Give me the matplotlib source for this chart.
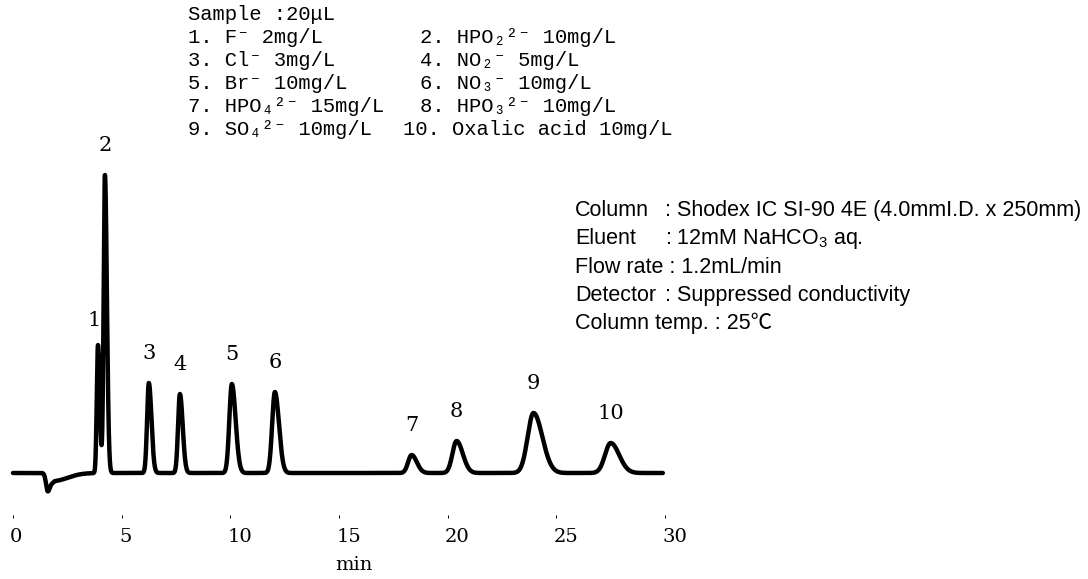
import numpy as np
import matplotlib
matplotlib.use("Agg")
import matplotlib.pyplot as plt
from matplotlib.transforms import ScaledTranslation

# Peak table: retention time (min), height (detector response), width (min)
peak_ids = ["1", "2", "3", "4", "5", "6", "7", "8", "9", "10"]
retention_min = [3.91, 4.23, 6.25, 7.68, 10.07, 12.05, 18.34, 20.41, 23.95, 27.50]
peak_height = [128, 298, 90, 79, 89, 81, 18, 32, 60, 30]
peak_sigma = [0.055, 0.060, 0.080, 0.085, 0.115, 0.125, 0.160, 0.190, 0.270, 0.260]
tailing = 1.5

# Injection (system) dip: time, depth, left/right width
dip_time = [1.60, 1.85]
dip_depth = [-18, -8]
dip_sigma_left = [0.08, 0.10]
dip_sigma_right = [0.11, 0.65]

run_end = 29.9
x_ticks = [0, 5, 10, 15, 20, 25, 30]

sample_lines_left = [
    "1. F\u207b 2mg/L",
    "3. Cl\u207b 3mg/L",
    "5. Br\u207b 10mg/L",
    "7. HPO\u2084\u00b2\u207b 15mg/L",
    "9. SO\u2084\u00b2\u207b 10mg/L",
]
sample_lines_right = [
    "2. HPO\u2082\u00b2\u207b 10mg/L",
    "4. NO\u2082\u207b 5mg/L",
    "6. NO\u2083\u207b 10mg/L",
    "8. HPO\u2083\u00b2\u207b 10mg/L",
    "10. Oxalic acid 10mg/L",
]
condition_keys = ["Column", "Eluent", "Flow rate", "Detector", "Column temp."]
condition_values = [
    "Shodex IC SI-90 4E (4.0mmI.D. x 250mm)",
    r"12mM NaHCO$\mathregular{_3}$ aq.",
    "1.2mL/min",
    "Suppressed conductivity",
    "25\u2103",
]


def skewed_gauss(t, center, height, s_left, s_right):
    s = np.where(t < center, s_left, s_right)
    return height * np.exp(-0.5 * ((t - center) / s) ** 2)


t = np.linspace(0, run_end, 8000)
signal = np.zeros_like(t)
for c, h, s in zip(retention_min, peak_height, peak_sigma):
    signal += skewed_gauss(t, c, h, s, s * tailing)
for c, h, sl, sr in zip(dip_time, dip_depth, dip_sigma_left, dip_sigma_right):
    signal += skewed_gauss(t, c, h, sl, sr)

W, H = 1088, 579
fig = plt.figure(figsize=(W / 100, H / 100), dpi=100)

# axes: t=0 at x=13px, t=30 at x=665px, baseline at y=473px
ax_left, ax_right = 13, 665
ax_bottom, ax_top, y_zero = 515, 155, 473
ax = fig.add_axes([ax_left / W, (H - ax_bottom) / H,
                   (ax_right - ax_left) / W, (ax_bottom - ax_top) / H])
ax.set_xlim(0, 30)
ax.set_ylim(-(ax_bottom - y_zero), y_zero - ax_top)

ax.plot(t, signal, color="black", lw=3.2, solid_joinstyle="round",
        solid_capstyle="round", clip_on=False)

for s in ax.spines.values():
    s.set_visible(False)
ax.set_yticks([])
ax.set_xticks(x_ticks)
ax.set_xticklabels([str(v) for v in x_ticks], fontfamily="DejaVu Serif", fontsize=14)
ax.tick_params(axis="x", direction="out", length=2.2, width=0.7, pad=7)
shift = ScaledTranslation(-2 / 72, 0, fig.dpi_scale_trans)
for lab in ax.get_xticklabels():
    lab.set_horizontalalignment("left")
    lab.set_transform(lab.get_transform() + shift)

fig.text(354 / W, 1 - 565 / H, "min", fontfamily="DejaVu Serif", fontsize=14,
         ha="center", va="center")

# peak numbers above each apex
for pid, c, h in zip(peak_ids, retention_min, peak_height):
    dx = -2.5 if pid == "1" else 0
    dy = 17.5 if pid == "1" else 21
    ax.annotate(pid, xy=(c, h), xytext=(dx, dy), textcoords="offset points",
                ha="center", va="center", fontfamily="DejaVu Serif", fontsize=15,
                annotation_clip=False)

# sample composition block
mono = dict(fontfamily=["Liberation Mono", "DejaVu Sans Mono"], fontsize=14.8,
            va="baseline")
fig.text(188 / W, 1 - 20 / H, "Sample :20\u03bcL", **mono)
base_rows = [43, 66, 89, 112, 135]
for y, a, b in zip(base_rows, sample_lines_left, sample_lines_right):
    fig.text(188 / W, 1 - y / H, a, **mono)
    xr = 403 if b.startswith("10.") else 420
    fig.text(xr / W, 1 - y / H, b, **mono)

# chromatographic conditions
sans = dict(fontfamily=["Liberation Sans", "Noto Sans CJK JP"], fontsize=15.5,
            va="baseline")
cond_rows = [216, 244, 273, 301, 329]
for y, k, v in zip(cond_rows, condition_keys, condition_values):
    if k in ("Column", "Eluent", "Detector"):
        fig.text(575 / W, 1 - y / H, k, **sans)
        fig.text(665 / W, 1 - y / H, ": " + v, **sans)
    else:
        fig.text(575 / W, 1 - y / H, k + " : " + v, **sans)

fig.savefig("out.png", dpi=100, facecolor="white")
